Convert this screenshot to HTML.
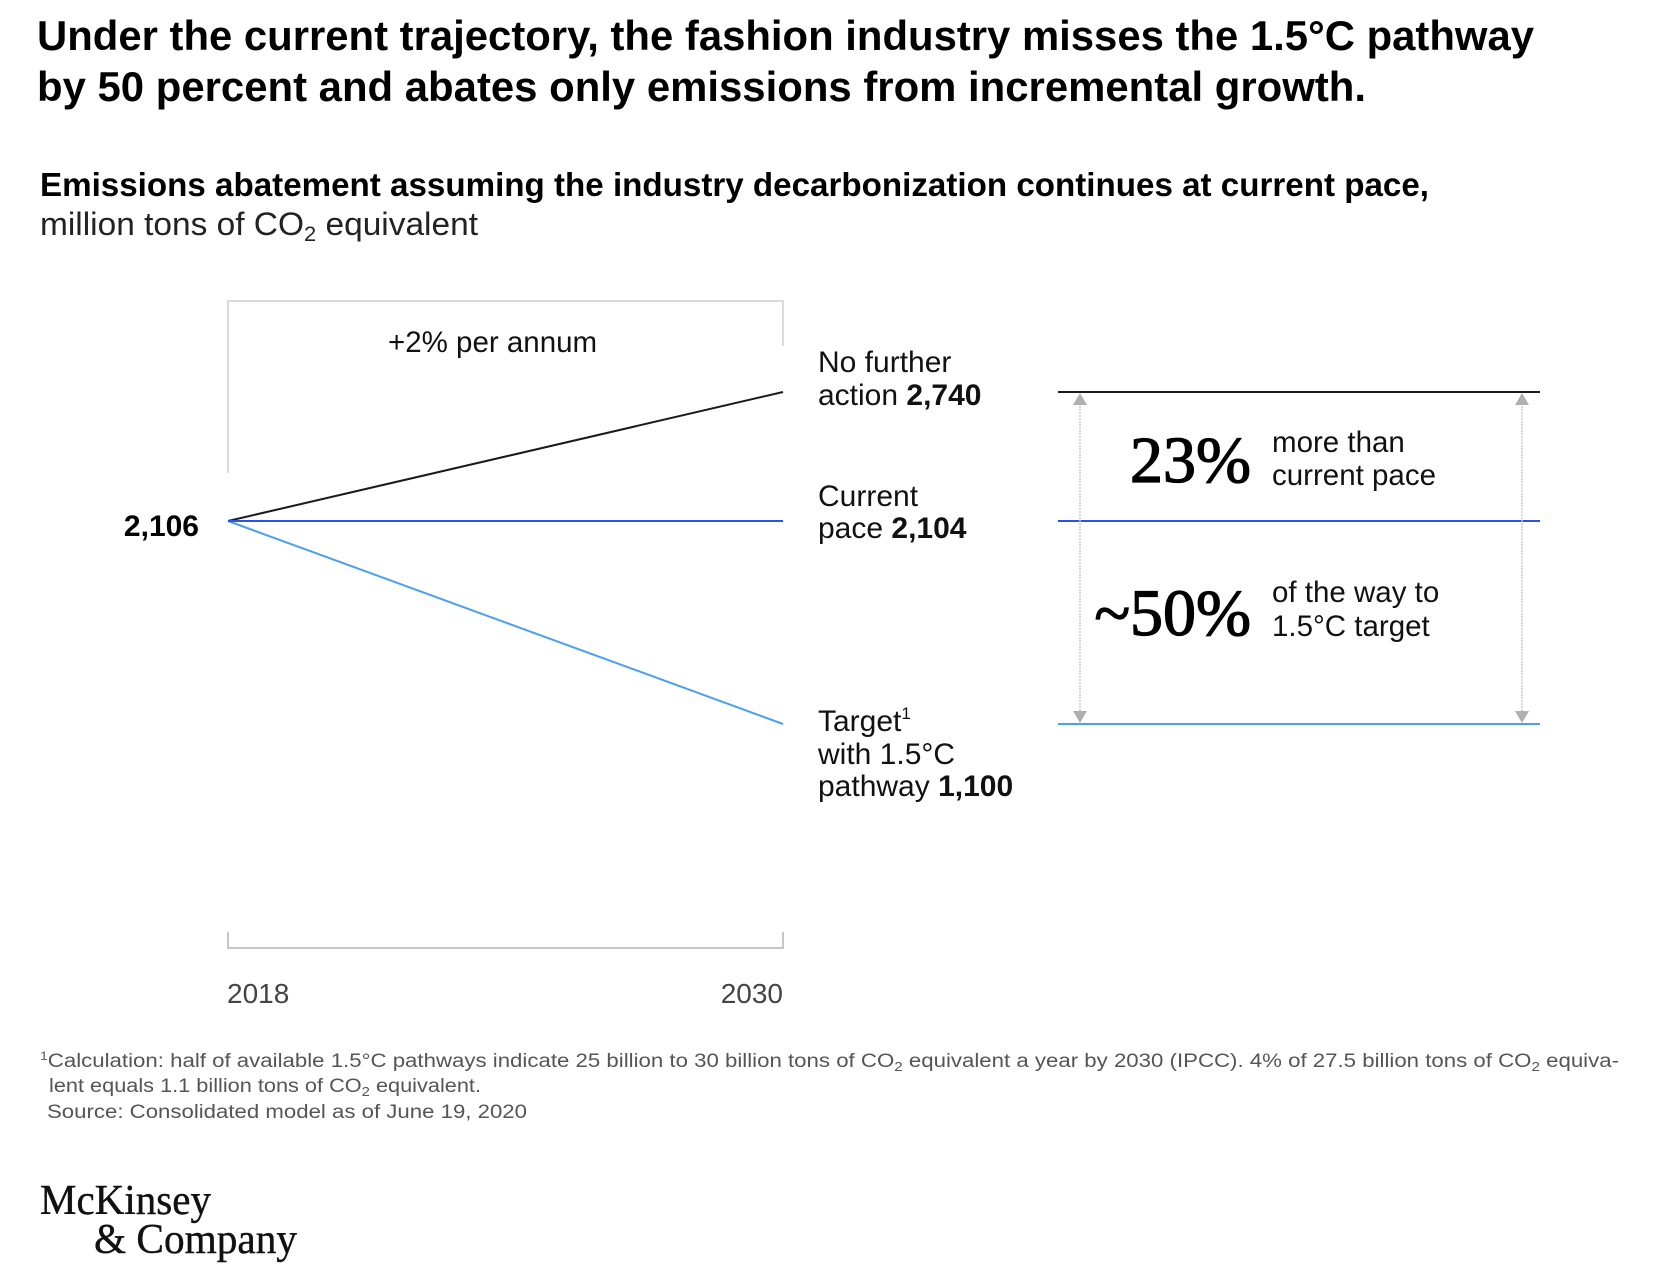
<!DOCTYPE html>
<html>
<head>
<meta charset="utf-8">
<style>
html,body{margin:0;padding:0;background:#fff;}
svg{display:block;}
.sans{font-family:"Liberation Sans","DejaVu Sans",sans-serif;}
.serif{font-family:"Liberation Serif","DejaVu Serif",serif;}
</style>
</head>
<body>
<svg width="1670" height="1278" viewBox="0 0 1670 1278" xmlns="http://www.w3.org/2000/svg">
  <rect width="1670" height="1278" fill="#fff"/>

  <!-- Title -->
  <g class="sans" font-weight="bold" fill="#000" font-size="42">
    <text x="37" y="50" textLength="1497" lengthAdjust="spacingAndGlyphs">Under the current trajectory, the fashion industry misses the 1.5°C pathway</text>
    <text x="37" y="101" textLength="1329" lengthAdjust="spacingAndGlyphs">by 50 percent and abates only emissions from incremental growth.</text>
  </g>

  <!-- Subtitle -->
  <text class="sans" x="40" y="196" font-size="33" font-weight="bold" fill="#000" textLength="1389" lengthAdjust="spacingAndGlyphs">Emissions abatement assuming the industry decarbonization continues at current pace,</text>
  <text class="sans" x="40" y="235" font-size="32" fill="#222" textLength="438" lengthAdjust="spacingAndGlyphs">million tons of CO<tspan font-size="21" dy="6">2</tspan><tspan dy="-6"> equivalent</tspan></text>

  <!-- Top bracket -->
  <path d="M228 473 V301 H783 V346" fill="none" stroke="#cfcfcf" stroke-width="1.5"/>
  <text class="sans" x="388" y="352" font-size="29.5" fill="#111">+2% per annum</text>

  <!-- Lines -->
  <line x1="228" y1="521" x2="783" y2="392" stroke="#1a1a1a" stroke-width="2"/>
  <line x1="228" y1="521" x2="783" y2="724" stroke="#4aa0ec" stroke-width="2"/>
  <line x1="228" y1="521" x2="783" y2="521" stroke="#2a52e6" stroke-width="2"/>

  <text class="sans" x="199" y="536" font-size="30" font-weight="bold" fill="#000" text-anchor="end">2,106</text>

  <!-- Labels -->
  <g class="sans" font-size="30" fill="#111">
    <text x="818" y="372">No further</text>
    <text x="818" y="405">action <tspan font-weight="bold">2,740</tspan></text>
    <text x="818" y="506">Current</text>
    <text x="818" y="538">pace <tspan font-weight="bold">2,104</tspan></text>
    <text x="818" y="731">Target<tspan font-size="17" dy="-12">1</tspan></text>
    <text x="818" y="764">with 1.5°C</text>
    <text x="818" y="796">pathway <tspan font-weight="bold">1,100</tspan></text>
  </g>

  <!-- Bottom bracket -->
  <path d="M228 932 V948 H783 V932" fill="none" stroke="#b3b3b3" stroke-width="1.5"/>
  <text class="sans" x="227" y="1003" font-size="28" fill="#444">2018</text>
  <text class="sans" x="783" y="1003" font-size="28" fill="#444" text-anchor="end">2030</text>

  <!-- Right panel -->
  <line x1="1058" y1="392" x2="1540" y2="392" stroke="#1a1a1a" stroke-width="2"/>
  <line x1="1058" y1="521" x2="1540" y2="521" stroke="#2a52e6" stroke-width="2"/>
  <line x1="1058" y1="724" x2="1540" y2="724" stroke="#4aa0ec" stroke-width="2"/>

  <g stroke="#c4c4c4" stroke-width="1.3" stroke-dasharray="2 1">
    <line x1="1080" y1="400" x2="1080" y2="716"/>
    <line x1="1522" y1="400" x2="1522" y2="716"/>
  </g>
  <g fill="#b0b0b0">
    <polygon points="1080,393 1073,405 1087,405"/>
    <polygon points="1080,723 1073,711 1087,711"/>
    <polygon points="1522,393 1515,405 1529,405"/>
    <polygon points="1522,723 1515,711 1529,711"/>
  </g>

  <g class="serif" font-size="66" fill="#000" text-anchor="end" stroke="#000" stroke-width="1.3">
    <text x="1251" y="482">23%</text>
    <text x="1251" y="635">~50%</text>
  </g>
  <g class="sans" font-size="29.5" fill="#111">
    <text x="1272" y="452">more than</text>
    <text x="1272" y="485">current pace</text>
    <text x="1272" y="602">of the way to</text>
    <text x="1272" y="636">1.5°C target</text>
  </g>

  <!-- Footnotes -->
  <g class="sans" font-size="19" fill="#555">
    <text x="40" y="1067" textLength="1579" lengthAdjust="spacingAndGlyphs"><tspan font-size="12" dy="-7">1</tspan><tspan dy="7">Calculation: half of available 1.5°C pathways indicate 25 billion to 30 billion tons of CO</tspan><tspan font-size="13" dy="4">2</tspan><tspan dy="-4"> equivalent a year by 2030 (IPCC). 4% of 27.5 billion tons of CO</tspan><tspan font-size="13" dy="4">2</tspan><tspan dy="-4"> equiva-</tspan></text>
    <text x="49" y="1092" textLength="432" lengthAdjust="spacingAndGlyphs">lent equals 1.1 billion tons of CO<tspan font-size="13" dy="4">2</tspan><tspan dy="-4"> equivalent.</tspan></text>
    <text x="47" y="1118" textLength="480" lengthAdjust="spacingAndGlyphs">Source: Consolidated model as of June 19, 2020</text>
  </g>

  <!-- Logo -->
  <g class="serif" font-size="42" fill="#111" stroke="#111" stroke-width="0.4">
    <text x="40" y="1214" textLength="171" lengthAdjust="spacingAndGlyphs">McKinsey</text>
    <text x="94" y="1253" textLength="203" lengthAdjust="spacingAndGlyphs">&amp; Company</text>
  </g>
</svg>
</body>
</html>
